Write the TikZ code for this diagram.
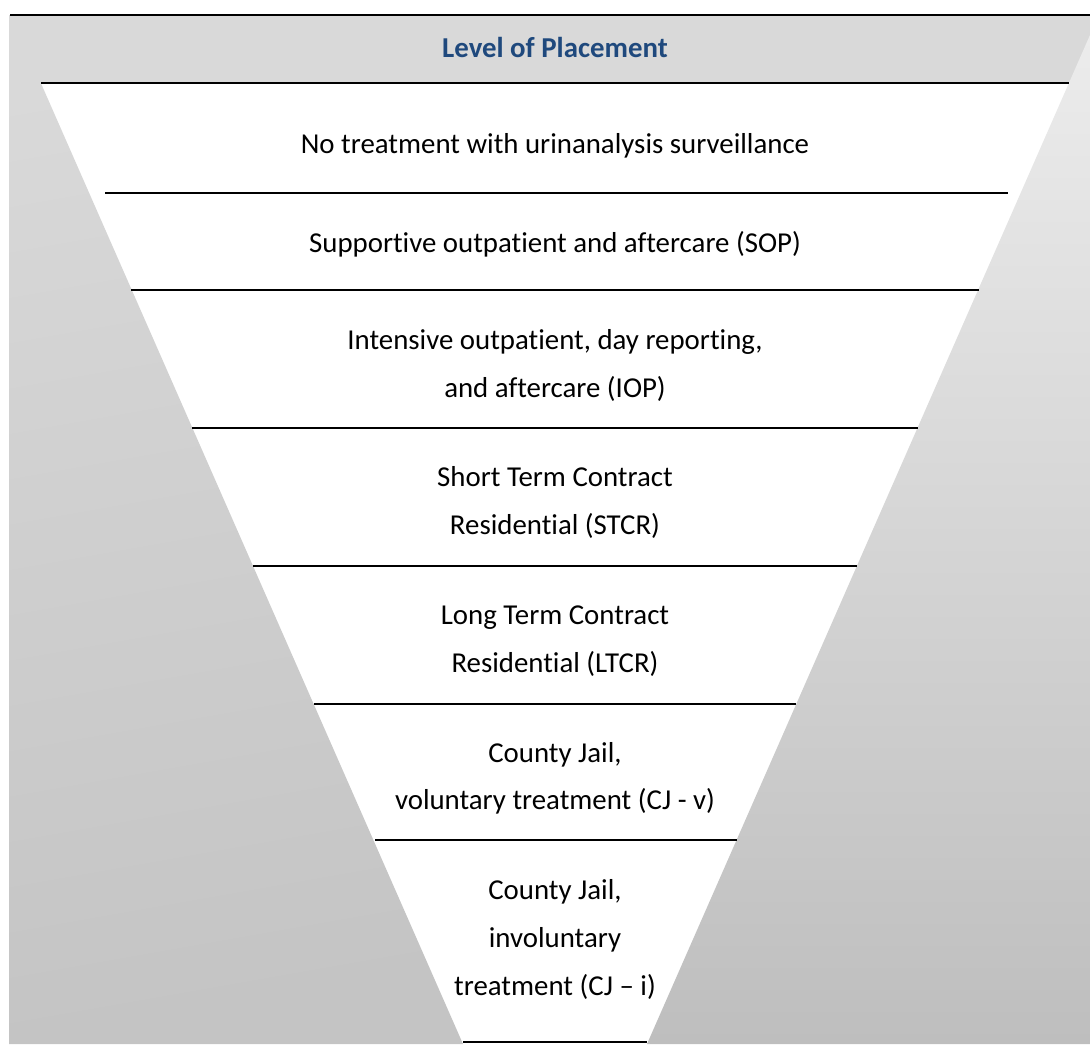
\documentclass[tikz,border=0pt]{standalone}
\usepackage{fontspec}
\setmainfont{Carlito}[Ligatures={NoCommon}]
\usepackage{xcolor}
\usepackage{tikz}

\definecolor{titleblue}{RGB}{31,73,125}
\definecolor{bandgray}{RGB}{217,217,217}
\definecolor{leftlow}{RGB}{196,196,196}
\definecolor{rightup}{RGB}{236,236,236}
\definecolor{rightlow}{RGB}{190,190,190}

\begin{document}
\begin{tikzpicture}[x=0.01cm, y=-0.01cm,
    txt/.style={font=\fontsize{8.2}{10}\selectfont, inner sep=0pt, anchor=base},
    sepline/.style={line width=0.5pt}]
    \useasboundingbox (0,0) rectangle (1090,1044);

    % 1. Dải tiêu đề
    \fill[bandgray] (9,15) rectangle (1090,83);

    % 2. Hai tam giác xám hai bên
    \shade[top color=bandgray, bottom color=leftlow, shading angle=10]
        (9,15) -- (11,15) -- (463,1044) -- (9,1044) -- cycle;
    \shade[top color=rightup, bottom color=rightlow]
        (1090,35) -- (1090,1044) -- (647,1044) -- cycle;

    % 3. Các đường ngăn
    \draw[sepline] (10,15) -- (1090,15);
    \draw[sepline] (41,83) -- (1069,83);
    \draw[sepline] (105,193) -- (1008,193);
    \draw[sepline] (131,290) -- (979,290);
    \draw[sepline] (192,428) -- (918,428);
    \draw[sepline] (253,566) -- (857,566);
    \draw[sepline] (314,704) -- (796,704);
    \draw[sepline] (375,840) -- (737,840);
    \draw[sepline] (463,1042) -- (647,1042);

    % 4. Tiêu đề và các mức
    \node[txt, font=\fontsize{8.2}{10}\selectfont\bfseries, text=titleblue] (title) at (555,57) {Level of Placement};
    \node[txt] (none) at (555,153) {No treatment with urinanalysis surveillance};
    \node[txt] (sop) at (555,252) {Supportive outpatient and aftercare (SOP)};
    \node[txt] (iopA) at (555,349) {Intensive outpatient, day reporting,};
    \node[txt] (iopB) at (555,397) {and aftercare (IOP)};
    \node[txt] (stcrA) at (555,486) {Short Term Contract};
    \node[txt] (stcrB) at (555,534) {Residential (STCR)};
    \node[txt] (ltcrA) at (555,624) {Long Term Contract};
    \node[txt] (ltcrB) at (555,672) {Residential (LTCR)};
    \node[txt] (cjvA) at (555,762) {County Jail,};
    \node[txt] (cjvB) at (555,809) {voluntary treatment (CJ - v)};
    \node[txt] (cjiA) at (555,899) {County Jail,};
    \node[txt] (cjiB) at (555,947) {involuntary};
    \node[txt] (cjiC) at (555,995) {treatment (CJ -- i)};
\end{tikzpicture}
\end{document}
